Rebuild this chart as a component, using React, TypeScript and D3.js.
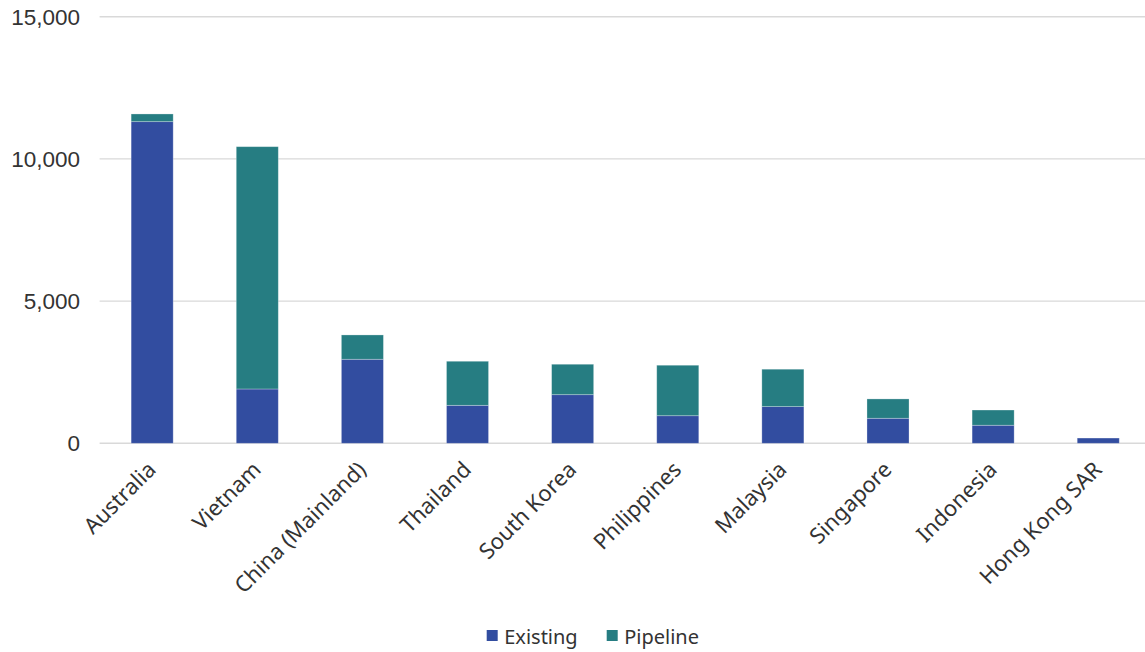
import React from "react";
import * as d3 from "d3";

const categories = [
  "Australia",
  "Vietnam",
  "China (Mainland)",
  "Thailand",
  "South Korea",
  "Philippines",
  "Malaysia",
  "Singapore",
  "Indonesia",
  "Hong Kong SAR",
];
const existing = [11310, 1910, 2955, 1335, 1710, 970, 1290, 880, 635, 185];
const pipeline = [270, 8520, 855, 1550, 1070, 1775, 1315, 680, 535, 0];
const yTicks = [0, 5000, 10000, 15000];
const seriesNames = ["Existing", "Pipeline"];
const seriesColors = ["#324da0", "#267d82"];

const W = 1145;
const H = 652;

export default function App() {
  const x = d3
    .scaleBand<string>()
    .domain(categories)
    .range([99.6, 1150.8])
    .paddingInner(0.6)
    .paddingOuter(0.3);
  const y = d3.scaleLinear().domain([0, 15000]).range([443.3, 16.7]);
  const fmt = d3.format(",");

  const rows = categories.map((c, i) => ({ c, Existing: existing[i], Pipeline: pipeline[i] }));
  const stacked = d3.stack<any>().keys(seriesNames)(rows);

  return (
    <svg
      width={W}
      height={H}
      style={{ position: "absolute", left: 0, top: 0, background: "#fff" }}
    >
      {yTicks.map((t) => (
        <g key={t}>
          <line x1={99.6} x2={W} y1={y(t)} y2={y(t)} stroke="#d9d9d9" strokeWidth={1.4} />
          <text
            x={80}
            y={y(t)}
            dy="0.36em"
            textAnchor="end"
            fontFamily="Liberation Sans, Arial, sans-serif"
            fontSize={22.5}
            fill="#333333"
          >
            {fmt(t)}
          </text>
        </g>
      ))}
      {stacked.map((s, si) => (
        <g key={s.key} fill={seriesColors[si]}>
          {s.map((d, i) =>
            d[1] - d[0] > 0 ? (
              <rect
                key={categories[i]}
                x={x(categories[i])!}
                width={x.bandwidth()}
                y={y(d[1])}
                height={y(d[0]) - y(d[1])}
                stroke="#ffffff"
                strokeOpacity={0.35}
                strokeWidth={0.8}
              />
            ) : null
          )}
        </g>
      ))}
      {categories.map((c) => {
        const cx = x(c)! + x.bandwidth() / 2 + 5;
        const cy = 443 + 28;
        return (
          <text
            key={c}
            transform={`translate(${cx},${cy}) rotate(-45)`}
            textAnchor="end"
            fontFamily="Noto Sans, sans-serif"
            fontSize={22}
            fill="#333333"
          >
            {c}
          </text>
        );
      })}
      {seriesNames.map((n, i) => {
        const lx = [486.7, 606.7][i];
        return (
          <g key={n}>
            <rect x={lx} y={630} width={11} height={11} fill={seriesColors[i]} />
            <text
              x={lx + 17.5}
              y={644}
              fontFamily="Noto Sans, sans-serif"
              fontSize={20}
              fill="#333333"
            >
              {n}
            </text>
          </g>
        );
      })}
    </svg>
  );
}
